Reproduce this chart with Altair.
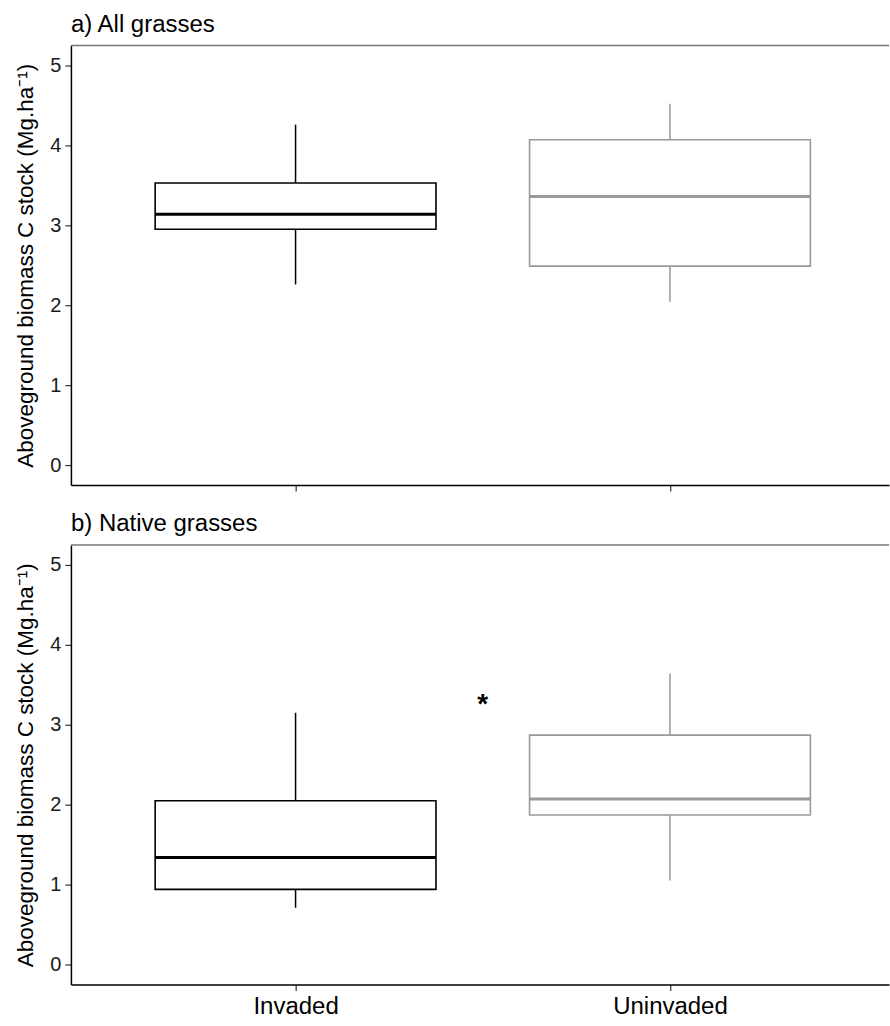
import altair as alt
import pandas as pd

groups = ["Invaded", "Uninvaded"]
positions = [1, 2]
colors = ["#000000", "#999999"]

a_low = [2.26, 2.04]
a_q1 = [2.95, 2.49]
a_med = [3.14, 3.36]
a_q3 = [3.53, 4.07]
a_high = [4.26, 4.52]

b_low = [0.71, 1.05]
b_q1 = [0.94, 1.87]
b_med = [1.34, 2.07]
b_q3 = [2.05, 2.87]
b_high = [3.15, 3.64]

y_ticks = [0, 1, 2, 3, 4, 5]
star_x = [1.5]
star_y = [3.35]

BOX_HALF = 0.375
XDOM = [0.4, 2.585]
YDOM = [-0.25, 5.25]
FONT = "Liberation Sans"
YTITLE = "Aboveground biomass C stock (Mg.ha⁻¹)"


def make_df(low, q1, med, q3, high):
    return pd.DataFrame({
        "group": groups,
        "pos": positions,
        "lo": [p - BOX_HALF for p in positions],
        "hi": [p + BOX_HALF for p in positions],
        "low": low, "q1": q1, "med": med, "q3": q3, "high": high,
    })


color_scale = alt.Scale(domain=groups, range=colors)


def panel(df, title, show_labels, extra=None):
    xax = alt.Axis(
        values=[1, 2], grid=False, title=None,
        labels=show_labels,
        labelExpr="datum.value == 1 ? 'Invaded' : 'Uninvaded'",
        labelFontSize=24, labelColor="#000000", labelFont=FONT, labelPadding=4,
        tickSize=6, tickColor="#333333", tickWidth=1.2,
        domainColor="#000000", domainWidth=1.5,
    )
    yax = alt.Axis(
        values=y_ticks, grid=False, title=YTITLE, format="d",
        titleFontSize=22.5, titleFont=FONT, titleFontWeight="normal", titleColor="#000000",
        titlePadding=12,
        labelFontSize=20, labelColor="#1a1a1a", labelFont=FONT, labelPadding=4,
        tickSize=6, tickColor="#333333", tickWidth=1.2,
        domainColor="#000000", domainWidth=1.5,
    )
    xs = alt.Scale(domain=XDOM, nice=False, zero=False)
    ys = alt.Scale(domain=YDOM, nice=False, zero=False)
    base = alt.Chart(df)
    whisk_up = base.mark_rule(strokeWidth=1.5).encode(
        x=alt.X("pos:Q", scale=xs, axis=xax),
        y=alt.Y("q3:Q", scale=ys, axis=yax),
        y2="high:Q",
        color=alt.Color("group:N", scale=color_scale, legend=None),
    )
    whisk_dn = base.mark_rule(strokeWidth=1.5).encode(
        x=alt.X("pos:Q", scale=xs),
        y=alt.Y("low:Q", scale=ys),
        y2="q1:Q",
        color=alt.Color("group:N", scale=color_scale, legend=None),
    )
    box = base.mark_rect(fill="white", strokeWidth=1.6).encode(
        x=alt.X("lo:Q", scale=xs),
        x2="hi:Q",
        y=alt.Y("q1:Q", scale=ys),
        y2="q3:Q",
        stroke=alt.Stroke("group:N", scale=color_scale, legend=None),
    )
    med = base.mark_rule(strokeWidth=3).encode(
        x=alt.X("lo:Q", scale=xs),
        x2="hi:Q",
        y=alt.Y("med:Q", scale=ys),
        color=alt.Color("group:N", scale=color_scale, legend=None),
    )
    top = alt.Chart(pd.DataFrame({"y": [YDOM[1]]})).mark_rule(
        color="#777777", strokeWidth=1.5
    ).encode(
        x=alt.value(0), x2=alt.value(819),
        y=alt.Y("y:Q", scale=ys),
    )
    layers = [top, whisk_up, whisk_dn, box, med]
    if extra is not None:
        layers.append(extra)
    return alt.layer(*layers).properties(
        width=819, height=440,
        title=alt.TitleParams(
            text=title, anchor="start", frame="group", fontSize=24,
            font=FONT, fontWeight="normal", color="#000000", offset=8,
        ),
    )


df_a = make_df(a_low, a_q1, a_med, a_q3, a_high)
df_b = make_df(b_low, b_q1, b_med, b_q3, b_high)

star = alt.Chart(pd.DataFrame({"x": star_x, "y": star_y, "t": ["*"]})).mark_text(
    fontSize=28, font=FONT, fontWeight="bold", color="#000000", baseline="middle", dy=8
).encode(
    x=alt.X("x:Q", scale=alt.Scale(domain=XDOM, nice=False, zero=False)),
    y=alt.Y("y:Q", scale=alt.Scale(domain=YDOM, nice=False, zero=False)),
    text="t:N",
)

chart = alt.vconcat(
    panel(df_a, "a) All grasses", False),
    panel(df_b, "b) Native grasses", True, star),
    spacing=20,
).properties(
    padding={"left": 14, "top": 12, "right": 0, "bottom": 5},
    background="white",
).configure_view(stroke=None)

chart.save("out.html", embed_options={"renderer": "svg", "actions": False})
